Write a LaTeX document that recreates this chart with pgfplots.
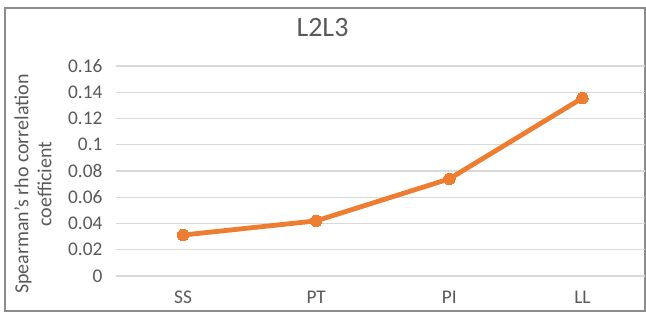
\documentclass[border=0pt]{standalone}
\usepackage{pgfplots}
\pgfplotsset{compat=1.18}
\usepackage{fontspec}
\setmainfont{Carlito}
\definecolor{xlorange}{HTML}{ED7D31}
\definecolor{xlgrid}{HTML}{D9D9D9}
\definecolor{xltext}{HTML}{595959}
\definecolor{xlframe}{HTML}{8C8C8C}
\begin{document}
\begin{tikzpicture}[x=0.75pt,y=0.75pt]
% image pixel (px,py) -> ((px-116.5), (276-py)) in units of 0.75pt
\useasboundingbox (-116.5,-40) rectangle (529.5,276);
\draw[xlframe,line width=1.2pt] (-111.5,-35) rectangle (528.5,268);
\begin{axis}[
  at={(0,0)}, anchor=south west,
  scale only axis,
  width=396.4pt, height=157.5pt,
  xmin=-0.5, xmax=3.47,
  ymin=0, ymax=0.16,
  axis line style={draw=none},
  xtick={0,1,2,3},
  xticklabels={SS,PT,PI,LL},
  ytick={0,0.02,0.04,0.06,0.08,0.1,0.12,0.14,0.16},
  yticklabels={0,0.02,0.04,0.06,0.08,0.1,0.12,0.14,0.16},
  major tick length=0pt,
  ymajorgrids,
  grid style={xlgrid,line width=1.1pt},
  tick label style={font=\fontsize{14.5}{17}\selectfont, text=xltext},
  yticklabel style={xshift=-7pt},
  xticklabel style={yshift=-8pt},
  clip=false,
]
\addplot[xlorange, line width=3.6pt, mark=*, mark size=4.3pt, mark options={fill=xlorange, draw=xlorange, line width=0pt}]
  coordinates {(0,0.0312) (1,0.0420) (2,0.0740) (3,0.1356)};
\end{axis}
\node[text=xltext, font=\fontsize{21}{24}\selectfont] at (206,248) {L2L3};
\node[text=xltext, font=\fontsize{15}{17.25}\selectfont, rotate=90, align=center] at (-83.5,92) {Spearman's rho correlation\\coefficient};
\end{tikzpicture}
\end{document}
